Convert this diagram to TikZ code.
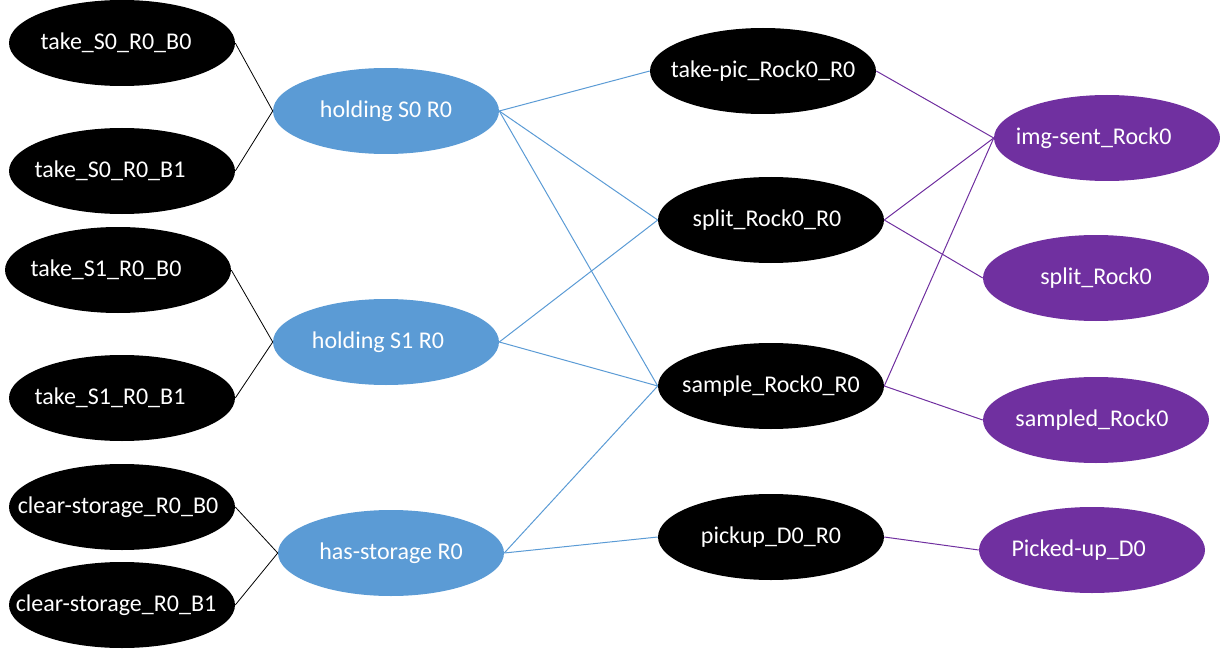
\documentclass[tikz,border=0pt]{standalone}
\usepackage{fontspec}
\setmainfont{Carlito}
\usetikzlibrary{shapes.geometric}
\definecolor{nodeblue}{RGB}{91,155,213}
\definecolor{nodepurple}{RGB}{112,48,160}
\tikzset{
  oval/.style={ellipse, minimum width=169.5pt, minimum height=64.5pt, inner sep=0pt},
  actoval/.style={oval, fill=black},
  factoval/.style={oval, fill=nodeblue},
  goaloval/.style={oval, fill=nodepurple},
  every label/.style={text=white, font=\fontsize{18}{21.6}\selectfont, inner sep=0pt},
  blackedge/.style={draw=black, line width=0.6pt},
  blueedge/.style={draw=nodeblue, line width=0.75pt},
  purpleedge/.style={draw=nodepurple, line width=0.75pt}
}

\begin{document}
\begin{tikzpicture}[x=0.75pt,y=0.75pt,yscale=-1,xscale=1]
\useasboundingbox (0,0) rectangle (1220,649);

% Left column: actions
\node[actoval, label={[xshift=-4.5pt]center:take\_S0\_R0\_B0}] (tsab) at (122,43) {};
\node[actoval, label={[xshift=-9pt]center:take\_S0\_R0\_B1}] (tsac) at (122,171) {};
\node[actoval, label={[xshift=-9pt]center:take\_S1\_R0\_B0}] (tsbb) at (118,270) {};
\node[actoval, label={[xshift=-9pt]center:take\_S1\_R0\_B1}] (tsbc) at (122,398) {};
\node[actoval, label={[xshift=-3pt]center:clear-storage\_R0\_B0}] (csb) at (122,507) {};
\node[actoval, label={[xshift=-4.5pt]center:clear-storage\_R0\_B1}] (csc) at (122,605) {};

% Facts
\node[factoval, label={center:holding S0 R0}] (hsa) at (386,111) {};
\node[factoval, label={[xshift=-6pt]center:holding S1 R0}] (hsb) at (386,342) {};
\node[factoval, label={center:has-storage R0}] (hst) at (391,553) {};

% Middle column: actions
\node[actoval, label={center:take-pic\_Rock0\_R0}] (tpic) at (763,71) {};
\node[actoval, label={[xshift=-3pt]center:split\_Rock0\_R0}] (spl) at (771,220) {};
\node[actoval, label={center:sample\_Rock0\_R0}] (smp) at (771,386) {};
\node[actoval, label={center:pickup\_D0\_R0}] (pck) at (771,537) {};

% Goals
\node[goaloval, label={[xshift=-10pt]center:img-sent\_Rock0}] (img) at (1107,138) {};
\node[goaloval, label={center:split\_Rock0}] (gspl) at (1096,278) {};
\node[goaloval, label={[xshift=-3pt]center:sampled\_Rock0}] (gsmp) at (1096,420) {};
\node[goaloval, label={[xshift=-10pt]center:Picked-up\_D0}] (gpck) at (1092,550) {};

% Straight Lines: actions to facts
\draw[blackedge] (tsab.east) -- (hsa.west);
\draw[blackedge] (tsac.east) -- (hsa.west);
\draw[blackedge] (tsbb.east) -- (hsb.west);
\draw[blackedge] (tsbc.east) -- (hsb.west);
\draw[blackedge] (csb.east) -- (hst.west);
\draw[blackedge] (csc.east) -- (hst.west);

% Straight Lines: facts to actions
\draw[blueedge] (hsa.east) -- (tpic.west);
\draw[blueedge] (hsa.east) -- (spl.west);
\draw[blueedge] (hsa.east) -- (smp.west);
\draw[blueedge] (hsb.east) -- (spl.west);
\draw[blueedge] (hsb.east) -- (smp.west);
\draw[blueedge] (hst.east) -- (smp.west);
\draw[blueedge] (hst.east) -- (pck.west);

% Straight Lines: actions to goals
\draw[purpleedge] (tpic.east) -- (img.west);
\draw[purpleedge] (spl.east) -- (img.west);
\draw[purpleedge] (spl.east) -- (gspl.west);
\draw[purpleedge] (smp.east) -- (img.west);
\draw[purpleedge] (smp.east) -- (gsmp.west);
\draw[purpleedge] (pck.east) -- (gpck.west);

\end{tikzpicture}
\end{document}
